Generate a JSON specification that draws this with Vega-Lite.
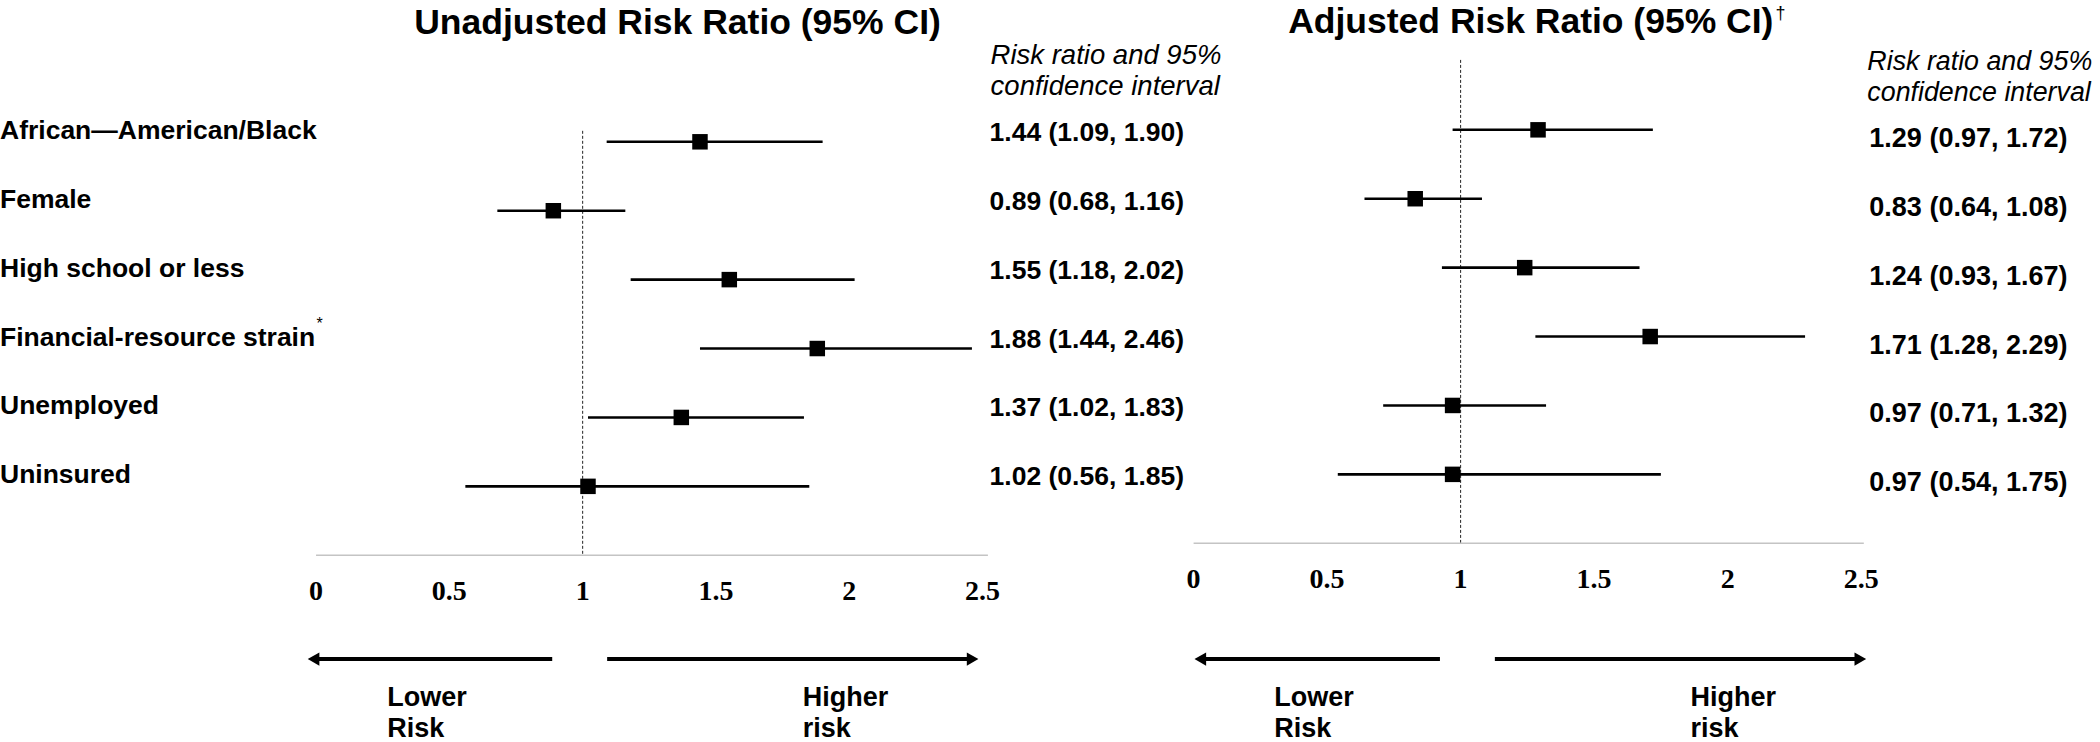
{
  "$schema": "https://vega.github.io/schema/vega-lite/v6.json",
  "width": 2100,
  "height": 742,
  "autosize": {"type": "fit", "contains": "padding"},
  "padding": 0,
  "background": "white",
  "config": {"view": {"stroke": null}, "axis": {"disable": true}, "mark": {"color": "black"}, "text": {"font": "Liberation Sans", "color": "black"}},
  "datasets": {
    "rows": [
      {"row": 1, "factor": "African\u2014American/Black", "rr_u": 1.44, "lo_u": 1.09, "hi_u": 1.90, "txt_u": "1.44 (1.09, 1.90)", "rr_a": 1.29, "lo_a": 0.97, "hi_a": 1.72, "txt_a": "1.29 (0.97, 1.72)"},
      {"row": 2, "factor": "Female", "rr_u": 0.89, "lo_u": 0.68, "hi_u": 1.16, "txt_u": "0.89 (0.68, 1.16)", "rr_a": 0.83, "lo_a": 0.64, "hi_a": 1.08, "txt_a": "0.83 (0.64, 1.08)"},
      {"row": 3, "factor": "High school or less", "rr_u": 1.55, "lo_u": 1.18, "hi_u": 2.02, "txt_u": "1.55 (1.18, 2.02)", "rr_a": 1.24, "lo_a": 0.93, "hi_a": 1.67, "txt_a": "1.24 (0.93, 1.67)"},
      {"row": 4, "factor": "Financial-resource strain", "rr_u": 1.88, "lo_u": 1.44, "hi_u": 2.46, "txt_u": "1.88 (1.44, 2.46)", "rr_a": 1.71, "lo_a": 1.28, "hi_a": 2.29, "txt_a": "1.71 (1.28, 2.29)"},
      {"row": 5, "factor": "Unemployed", "rr_u": 1.37, "lo_u": 1.02, "hi_u": 1.83, "txt_u": "1.37 (1.02, 1.83)", "rr_a": 0.97, "lo_a": 0.71, "hi_a": 1.32, "txt_a": "0.97 (0.71, 1.32)"},
      {"row": 6, "factor": "Uninsured", "rr_u": 1.02, "lo_u": 0.56, "hi_u": 1.85, "txt_u": "1.02 (0.56, 1.85)", "rr_a": 0.97, "lo_a": 0.54, "hi_a": 1.75, "txt_a": "0.97 (0.54, 1.75)"}
    ],
    "ticks": [
      {"tick": 0, "label": "0"}, {"tick": 0.5, "label": "0.5"}, {"tick": 1, "label": "1"},
      {"tick": 1.5, "label": "1.5"}, {"tick": 2, "label": "2"}, {"tick": 2.5, "label": "2.5"}
    ],
    "one": [{}]
  },
  "layer": [
    {
      "layer": [
        {
          "data": {"name": "one"},
          "mark": {"type": "text", "fontSize": 35.5, "fontWeight": "bold", "align": "center", "baseline": "alphabetic", "color": "black"},
          "encoding": {
            "x": {"datum": 1.3558, "type": "quantitative", "scale": {"domain": [-1.18539, 6.67978], "nice": false, "zero": false}},
            "y": {"datum": -0.5652, "type": "quantitative", "scale": {"domain": [-1.05797, 9.69565], "nice": false, "zero": false, "reverse": true}},
            "text": {"value": "Unadjusted Risk Ratio (95% CI)"}
          }
        },
        {
          "data": {"name": "one"},
          "mark": {"type": "text", "fontSize": 27.5, "fontStyle": "italic", "align": "left", "baseline": "alphabetic", "lineHeight": 31, "color": "black"},
          "encoding": {
            "x": {"datum": 2.53, "type": "quantitative"},
            "y": {"datum": -0.1304, "type": "quantitative"},
            "text": {"value": ["Risk ratio  and 95%", "confidence interval"]}
          }
        },
        {
          "data": {"name": "one"},
          "mark": {"type": "rule", "color": "#222", "strokeWidth": 1, "strokeDash": [3, 2]},
          "encoding": {
            "x": {"datum": 1, "type": "quantitative"},
            "y": {"datum": 0.8406, "type": "quantitative"},
            "y2": {"datum": 7.0}
          }
        },
        {
          "data": {"name": "one"},
          "mark": {"type": "rule", "color": "#c4c4c4", "strokeWidth": 1.5},
          "encoding": {
            "x": {"datum": 0, "type": "quantitative"},
            "x2": {"datum": 2.52},
            "y": {"datum": 7.0, "type": "quantitative"}
          }
        },
        {
          "data": {"name": "ticks"},
          "mark": {"type": "text", "font": "Liberation Serif", "fontSize": 28, "fontWeight": "bold", "align": "center", "baseline": "alphabetic", "color": "black"},
          "encoding": {
            "x": {"field": "tick", "type": "quantitative"},
            "y": {"datum": 7.6478, "type": "quantitative"},
            "text": {"field": "label"}
          }
        },
        {
          "data": {"name": "rows"},
          "mark": {"type": "rule", "color": "black", "strokeWidth": 2.6},
          "encoding": {
            "x": {"field": "lo_u", "type": "quantitative"},
            "x2": {"field": "hi_u"},
            "y": {"field": "row", "type": "quantitative"}
          }
        },
        {
          "data": {"name": "rows"},
          "mark": {"type": "point", "shape": "square", "size": 240, "filled": true, "color": "black", "opacity": 1},
          "encoding": {
            "x": {"field": "rr_u", "type": "quantitative"},
            "y": {"field": "row", "type": "quantitative"}
          }
        },
        {
          "data": {"name": "rows"},
          "mark": {"type": "text", "fontSize": 26.5, "fontWeight": "bold", "align": "left", "baseline": "middle", "dy": -11, "color": "black"},
          "encoding": {
            "x": {"datum": -1.18539, "type": "quantitative"},
            "y": {"field": "row", "type": "quantitative"},
            "text": {"field": "factor"}
          }
        },
        {
          "data": {"name": "one"},
          "mark": {"type": "text", "fontSize": 16, "align": "left", "baseline": "alphabetic", "color": "black"},
          "encoding": {
            "x": {"datum": 0.0019, "type": "quantitative"},
            "y": {"datum": 3.7174, "type": "quantitative"},
            "text": {"value": "*"}
          }
        },
        {
          "data": {"name": "rows"},
          "mark": {"type": "text", "fontSize": 26.5, "fontWeight": "bold", "align": "left", "baseline": "middle", "dy": -9, "color": "black"},
          "encoding": {
            "x": {"datum": 2.5262, "type": "quantitative"},
            "y": {"field": "row", "type": "quantitative"},
            "text": {"field": "txt_u"}
          }
        },
        {
          "data": {"name": "one"},
          "mark": {"type": "rule", "color": "black", "strokeWidth": 4},
          "encoding": {
            "x": {"datum": -0.0094, "type": "quantitative"},
            "x2": {"datum": 0.8858},
            "y": {"datum": 8.5072, "type": "quantitative"}
          }
        },
        {
          "data": {"name": "one"},
          "mark": {"type": "rule", "color": "black", "strokeWidth": 4},
          "encoding": {
            "x": {"datum": 1.0918, "type": "quantitative"},
            "x2": {"datum": 2.4625},
            "y": {"datum": 8.5072, "type": "quantitative"}
          }
        },
        {
          "data": {"name": "one"},
          "mark": {"type": "point", "shape": "triangle-left", "size": 180, "filled": true, "color": "black", "opacity": 1},
          "encoding": {
            "x": {"datum": -0.0094, "type": "quantitative"},
            "y": {"datum": 8.5072, "type": "quantitative"}
          }
        },
        {
          "data": {"name": "one"},
          "mark": {"type": "point", "shape": "triangle-right", "size": 180, "filled": true, "color": "black", "opacity": 1},
          "encoding": {
            "x": {"datum": 2.4625, "type": "quantitative"},
            "y": {"datum": 8.5072, "type": "quantitative"}
          }
        },
        {
          "data": {"name": "one"},
          "mark": {"type": "text", "fontSize": 27, "fontWeight": "bold", "align": "left", "baseline": "alphabetic", "lineHeight": 31, "color": "black"},
          "encoding": {
            "x": {"datum": 0.2667, "type": "quantitative"},
            "y": {"datum": 9.1884, "type": "quantitative"},
            "text": {"value": ["Lower", "Risk"]}
          }
        },
        {
          "data": {"name": "one"},
          "mark": {"type": "text", "fontSize": 27, "fontWeight": "bold", "align": "left", "baseline": "alphabetic", "lineHeight": 31, "color": "black"},
          "encoding": {
            "x": {"datum": 1.8258, "type": "quantitative"},
            "y": {"datum": 9.1884, "type": "quantitative"},
            "text": {"value": ["Higher", "risk"]}
          }
        }
      ]
    },
    {
      "layer": [
        {
          "data": {"name": "one"},
          "mark": {"type": "text", "fontSize": 35.5, "fontWeight": "bold", "align": "left", "baseline": "alphabetic", "color": "black"},
          "encoding": {
            "x": {"datum": 0.3542, "type": "quantitative", "scale": {"domain": [-4.47008, 3.38332], "nice": false, "zero": false}},
            "y": {"datum": -0.4058, "type": "quantitative", "scale": {"domain": [-0.88406, 9.86957], "nice": false, "zero": false, "reverse": true}},
            "text": {"value": "Adjusted Risk Ratio (95% CI)"}
          }
        },
        {
          "data": {"name": "one"},
          "mark": {"type": "text", "fontSize": 18, "align": "left", "baseline": "alphabetic", "color": "black"},
          "encoding": {
            "x": {"datum": 2.1791, "type": "quantitative"},
            "y": {"datum": -0.6087, "type": "quantitative"},
            "text": {"value": "\u2020"}
          }
        },
        {
          "data": {"name": "one"},
          "mark": {"type": "text", "fontSize": 26.8, "fontStyle": "italic", "align": "left", "baseline": "alphabetic", "lineHeight": 31, "color": "black"},
          "encoding": {
            "x": {"datum": 2.5232, "type": "quantitative"},
            "y": {"datum": 0.1304, "type": "quantitative"},
            "text": {"value": ["Risk ratio  and 95%", "confidence interval"]}
          }
        },
        {
          "data": {"name": "one"},
          "mark": {"type": "rule", "color": "#222", "strokeWidth": 1, "strokeDash": [3, 2]},
          "encoding": {
            "x": {"datum": 1, "type": "quantitative"},
            "y": {"datum": -0.0145, "type": "quantitative"},
            "y2": {"datum": 7.0}
          }
        },
        {
          "data": {"name": "one"},
          "mark": {"type": "rule", "color": "#c4c4c4", "strokeWidth": 1.5},
          "encoding": {
            "x": {"datum": 0, "type": "quantitative"},
            "x2": {"datum": 2.51},
            "y": {"datum": 7.0, "type": "quantitative"}
          }
        },
        {
          "data": {"name": "ticks"},
          "mark": {"type": "text", "font": "Liberation Serif", "fontSize": 28, "fontWeight": "bold", "align": "center", "baseline": "alphabetic", "color": "black"},
          "encoding": {
            "x": {"field": "tick", "type": "quantitative"},
            "y": {"datum": 7.6522, "type": "quantitative"},
            "text": {"field": "label"}
          }
        },
        {
          "data": {"name": "rows"},
          "mark": {"type": "rule", "color": "black", "strokeWidth": 2.6},
          "encoding": {
            "x": {"field": "lo_a", "type": "quantitative"},
            "x2": {"field": "hi_a"},
            "y": {"field": "row", "type": "quantitative"}
          }
        },
        {
          "data": {"name": "rows"},
          "mark": {"type": "point", "shape": "square", "size": 240, "filled": true, "color": "black", "opacity": 1},
          "encoding": {
            "x": {"field": "rr_a", "type": "quantitative"},
            "y": {"field": "row", "type": "quantitative"}
          }
        },
        {
          "data": {"name": "rows"},
          "mark": {"type": "text", "fontSize": 27, "fontWeight": "bold", "align": "left", "baseline": "middle", "dy": 9, "color": "black"},
          "encoding": {
            "x": {"datum": 2.5307, "type": "quantitative"},
            "y": {"field": "row", "type": "quantitative"},
            "text": {"field": "txt_a"}
          }
        },
        {
          "data": {"name": "one"},
          "mark": {"type": "rule", "color": "black", "strokeWidth": 4},
          "encoding": {
            "x": {"datum": 0.0251, "type": "quantitative"},
            "x2": {"datum": 0.9226},
            "y": {"datum": 8.6812, "type": "quantitative"}
          }
        },
        {
          "data": {"name": "one"},
          "mark": {"type": "rule", "color": "black", "strokeWidth": 4},
          "encoding": {
            "x": {"datum": 1.1283, "type": "quantitative"},
            "x2": {"datum": 2.497},
            "y": {"datum": 8.6812, "type": "quantitative"}
          }
        },
        {
          "data": {"name": "one"},
          "mark": {"type": "point", "shape": "triangle-left", "size": 180, "filled": true, "color": "black", "opacity": 1},
          "encoding": {
            "x": {"datum": 0.0251, "type": "quantitative"},
            "y": {"datum": 8.6812, "type": "quantitative"}
          }
        },
        {
          "data": {"name": "one"},
          "mark": {"type": "point", "shape": "triangle-right", "size": 180, "filled": true, "color": "black", "opacity": 1},
          "encoding": {
            "x": {"datum": 2.497, "type": "quantitative"},
            "y": {"datum": 8.6812, "type": "quantitative"}
          }
        },
        {
          "data": {"name": "one"},
          "mark": {"type": "text", "fontSize": 27, "fontWeight": "bold", "align": "left", "baseline": "alphabetic", "lineHeight": 31, "color": "black"},
          "encoding": {
            "x": {"datum": 0.3018, "type": "quantitative"},
            "y": {"datum": 9.3623, "type": "quantitative"},
            "text": {"value": ["Lower", "Risk"]}
          }
        },
        {
          "data": {"name": "one"},
          "mark": {"type": "text", "fontSize": 27, "fontWeight": "bold", "align": "left", "baseline": "alphabetic", "lineHeight": 31, "color": "black"},
          "encoding": {
            "x": {"datum": 1.8613, "type": "quantitative"},
            "y": {"datum": 9.3623, "type": "quantitative"},
            "text": {"value": ["Higher", "risk"]}
          }
        }
      ]
    }
  ],
  "resolve": {"scale": {"x": "independent", "y": "independent"}}
}
